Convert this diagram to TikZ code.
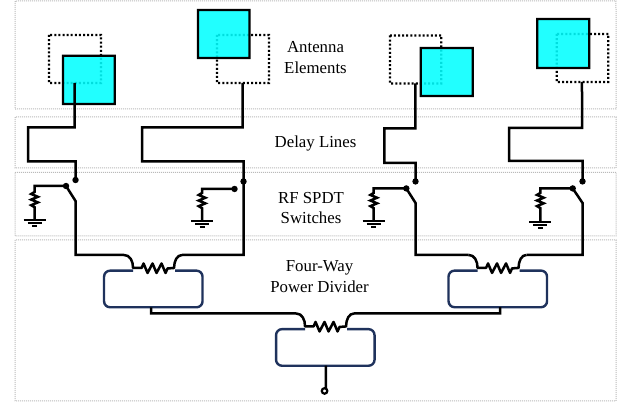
\documentclass[tikz,border=0pt]{standalone}
\usepackage{fontspec}
\setmainfont{Liberation Serif}
\definecolor{patchcyan}{RGB}{0,255,255}
\definecolor{divblue}{RGB}{31,50,92}
\begin{document}
\begin{tikzpicture}[x=1pt,y=-1pt,
  frame/.style={draw=black!27,line width=1pt,dash pattern=on 1pt off 1pt},
  wire/.style={draw=black,line width=2.5pt,line join=miter},
  thinw/.style={draw=black,line width=2pt},
  patchoff/.style={draw=black,line width=2.2pt,dash pattern=on 2pt off 2.1pt},
  patchon/.style={draw=black,line width=2.2pt,fill=patchcyan,fill opacity=0.87,draw opacity=1},
  dotn/.style={circle,fill=black,inner sep=0pt,minimum size=6.4pt},
  port/.style={circle,draw=black,fill=white,line width=2.2pt,inner sep=0pt,minimum size=5.5pt},
  lab/.style={font=\fontsize{16.8pt}{20.5pt}\selectfont,align=center,text=black},
  divider/.pic={
    \draw[draw=divblue,line width=2.4pt,rounded corners=6pt]
      (0,2.7) -- (-29,2.7) -- (-29,39.3) -- (69.5,39.3) -- (69.5,2.7) -- (42,2.7);
    \coordinate (-left) at (-9,-13);
    \coordinate (-right) at (49,-13);
    \coordinate (-bottom) at (18,39.3);
    \draw[wire,line join=round] (-left) .. controls (-3,-13) and (0,-7) .. (0,0) -- (8.5,0)
      -- ++(2,-4.5) -- ++(4,9.5) -- ++(5,-9.5) -- ++(4,9.5) -- ++(5,-9.5) -- ++(4,9.5) -- ++(2,-4.5)
      -- (41,0) .. controls (41,-7) and (44,-13) .. (-right);
  },
  ground/.pic={
    \coordinate (-top) at (0,0);
    \draw[thinw] (-11,0) -- (11,0);
    \draw[thinw] (-7,2.8) -- (7,2.8);
    \draw[thinw] (-2.5,6) -- (2.5,6);
  }]
\useasboundingbox (0,0) rectangle (621,405);
\fill[white] (0,0) rectangle (621,405);
\begin{scope}[rotate=0.01]

% section frames
\draw[frame] (15,1) rectangle (616,109);
\draw[frame] (15,117) rectangle (616,168);
\draw[frame] (15,172.5) rectangle (616,236);
\draw[frame] (15,240) rectangle (616,401);

% labels
\node[lab] (antlab) at (315.5,57.5) {Antenna\\Elements};
\node[lab] (dellab) at (315.5,143.5) {Delay Lines};
\node[lab] (swlab) at (311,208) {RF SPDT\\Switches};
\node[lab] (divlab) at (319.5,276.5) {Four-Way\\Power Divider};

% antenna elements
\draw[patchoff] (49,35) rectangle (101,83);
\draw[patchon] (63,55.7) rectangle (114.7,104);
\draw[patchoff] (217,35) rectangle (269,83);
\draw[patchon] (198,10) rectangle (249.5,58);
\draw[patchoff] (390,35.5) rectangle (441.3,83.5);
\draw[patchon] (420.7,48) rectangle (472.7,96);
\draw[patchoff] (556.7,34) rectangle (608.3,82);
\draw[patchon] (537.3,19) rectangle (589.3,68);

% feed points
\coordinate (f1) at (74.5,83);
\coordinate (f2) at (242.5,83);
\coordinate (f3) at (415.3,83.5);
\coordinate (f4) at (582,82);

% switch contacts and pivots
\node[dotn] (in1) at (75.5,180) {};
\node[dotn] (in2) at (243.5,181.5) {};
\node[dotn] (in3) at (415.5,181.5) {};
\node[dotn] (in4) at (582.5,181.5) {};
\node[dotn] (piv1) at (66,186) {};
\node[dotn] (piv2) at (234.5,189) {};
\node[dotn] (piv3) at (406.3,188.5) {};
\node[dotn] (piv4) at (572.7,188.5) {};

% delay lines
\draw[wire] (f1) -- (74.5,127.5) -- (28,127.5) -- (28,161.5) -- (75.5,161.5) -- (in1.center);
\draw[wire] (f2) -- (242.5,127.5) -- (142,127.5) -- (142,161.5) -- (243.5,161.5) -- (in2.center);
\draw[wire] (f3) -- (415.3,128.5) -- (384.3,128.5) -- (384.3,163) -- (415.5,163) -- (in3.center);
\draw[wire] (f4) -- (582,128) -- (509,128) -- (509,161) -- (582.5,161) -- (in4.center);

% dividers
\pic (d1) at (133,268) {divider};
\pic (d2) at (477.5,268) {divider};
\pic (d3) at (305,326.5) {divider};

% switch arms to the dividers
\coordinate (k1) at (75.5,201);
\coordinate (k3) at (415.5,203);
\coordinate (k4) at (582.5,203);
\draw[wire] (piv1.center) -- (k1) |- (d1-left);
\draw[wire] (in2.center) |- (d1-right);
\draw[wire] (piv3.center) -- (k3) |- (d2-left);
\draw[wire] (piv4.center) -- (k4) |- (d2-right);

% second divider stage
\coordinate (o1) at (151,307.3);
\coordinate (o2) at (500,307.3);
\draw[wire] (o1) |- (d3-left);
\draw[wire] (o2) |- (d3-right);

% output port
\node[port] (out) at (324.5,391) {};
\coordinate (o3) at (325.7,365.7);
\draw[wire] (o3) -- (325.7,388.5);

% terminations
\pic (g1) at (34.5,220.5) {ground};
\pic (g2) at (202,221) {ground};
\pic (g3) at (373.7,221.5) {ground};
\pic (g4) at (540.3,222) {ground};
\draw[wire] (piv1.center) -| (34.5,192) -- ++(-3.3,2) -- ++(6.6,2.8) -- ++(-6.6,2.8) -- ++(6.6,2.8) -- ++(-6.6,2.8) -- ++(3.3,2) -- (g1-top);
\draw[wire] (piv2.center) -| (202,193) -- ++(-3.3,2) -- ++(6.6,2.8) -- ++(-6.6,2.8) -- ++(6.6,2.8) -- ++(-6.6,2.8) -- ++(3.3,2) -- (g2-top);
\draw[wire] (piv3.center) -| (373.7,193) -- ++(-3.3,2) -- ++(6.6,2.8) -- ++(-6.6,2.8) -- ++(6.6,2.8) -- ++(-6.6,2.8) -- ++(3.3,2) -- (g3-top);
\draw[wire] (piv4.center) -| (540.3,193) -- ++(-3.3,2) -- ++(6.6,2.8) -- ++(-6.6,2.8) -- ++(6.6,2.8) -- ++(-6.6,2.8) -- ++(3.3,2) -- (g4-top);
\end{scope}
\end{tikzpicture}
\end{document}
